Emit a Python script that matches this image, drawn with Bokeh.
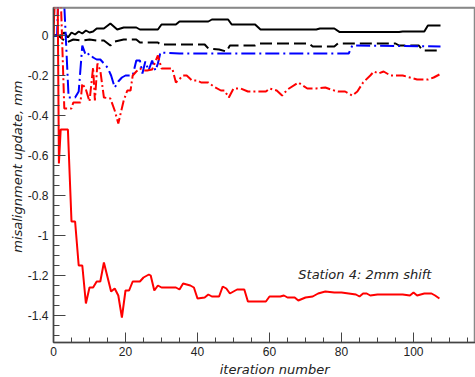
from bokeh.plotting import figure
from bokeh.models import (Range1d, FixedTicker, LinearAxis, Label, Title, Span,
                          CustomJSTickFormatter)
from bokeh.embed import file_html
from bokeh.resources import INLINE

# ---------------- data ----------------
blk_solid_x = [0, 1, 2, 3, 4, 5, 6, 7, 8, 9, 10, 11, 12, 14, 15.8, 17.7, 19.5, 23, 24, 29, 30,
               34, 35, 43, 44, 48.5, 49.5, 56, 57.5, 73, 74, 78, 79.5, 96, 97, 103, 104, 107.5]
blk_solid_y = [0, 0, 0.0, 0.015, -0.01, 0.015, 0.005, 0.02, 0.01, 0.025, 0.015, 0.02, 0.035, 0.035,
               0.06, 0.03, 0.04, 0.04, 0.03, 0.03, 0.055, 0.055, 0.07, 0.07, 0.08, 0.08, 0.055,
               0.055, 0.03, 0.03, 0.035, 0.035, 0.017, 0.017, 0.02, 0.02, 0.05, 0.05]

blk_dash_x = [0, 1, 2, 3.6, 5.5, 8, 10, 12, 14, 15.8, 17, 19.5, 23, 24, 29, 29.7, 42, 43, 46,
              48, 49, 56, 57, 71, 72, 78, 79, 95, 96, 101.5, 102.5, 107.5]
blk_dash_y = [0, 0, -0.01, -0.035, -0.02, -0.025, -0.02, -0.025, -0.025, -0.05, -0.03, -0.02,
              -0.02, -0.035, -0.035, -0.045, -0.045, -0.065, -0.07, -0.08, -0.05, -0.05, -0.04,
              -0.04, -0.055, -0.055, -0.04, -0.04, -0.05, -0.05, -0.075, -0.075]

blue_x = [0, 1, 2, 3, 4.2, 6, 7, 8, 9, 10, 11, 12, 13, 14, 15, 16, 17, 18, 19, 20, 22, 23, 24,
          24.7, 25.5, 26.4, 27.4, 28.3, 29, 29.7, 35, 82, 83, 107.5]
blue_y = [0, 0, 0.6, 0.15, -0.31, -0.31, -0.28, -0.05, -0.1, -0.09, -0.11, -0.12, -0.12, -0.14,
          -0.16, -0.2, -0.26, -0.23, -0.21, -0.2, -0.2, -0.125, -0.125, -0.19, -0.13, -0.175,
          -0.125, -0.175, -0.14, -0.085, -0.09, -0.09, -0.05, -0.055]

red_dash_x = [0, 1, 2, 3, 5, 5.5, 7.5, 8, 9, 10, 11, 11.5, 12.2, 13, 14, 15.8, 17, 18, 19.5,
              20.5, 21.4, 22, 23, 24, 25, 26, 27.4, 29, 30, 33, 34, 36, 37, 38.5, 40, 41, 43,
              44.5, 46.5, 47.5, 48.7, 50, 52, 54, 59, 60, 62, 63.5, 65, 68, 70.5, 73, 75.5, 77,
              79, 81, 83, 84.4, 86, 88, 89, 90.3, 91.7, 93.6, 97, 99, 101, 104, 105.6, 107.2]
red_dash_y = [0, 0.6, 0.2, -0.365, -0.365, -0.335, -0.335, -0.24, -0.27, -0.33, -0.16, -0.325,
              -0.14, -0.175, -0.31, -0.315, -0.375, -0.44, -0.325, -0.275, -0.275, -0.2, -0.18,
              -0.165, -0.175, -0.175, -0.17, -0.1, -0.165, -0.165, -0.235, -0.2, -0.2, -0.225,
              -0.225, -0.235, -0.235, -0.255, -0.275, -0.275, -0.31, -0.265, -0.265, -0.28,
              -0.28, -0.265, -0.275, -0.3, -0.27, -0.235, -0.265, -0.265, -0.26, -0.27, -0.28,
              -0.28, -0.3, -0.28, -0.235, -0.2, -0.18, -0.19, -0.18, -0.2, -0.2, -0.21, -0.22,
              -0.22, -0.21, -0.195]

red_solid_x = [0, 1, 1.5, 2, 4, 5, 6, 7, 8, 9, 10, 11, 12, 13, 14, 16, 17, 18, 19, 20, 21, 22,
               24, 25, 26.5, 27, 28, 29, 30, 34, 35, 36, 38, 39, 40, 42, 43, 44, 46, 47, 48, 49,
               50, 51, 53, 54, 59, 60, 63, 64, 65, 67, 68, 70, 72, 73.5, 75.5, 78, 80, 82, 84,
               85, 86, 87, 88, 90, 97, 99, 100, 101, 103, 105, 106, 107.2]
red_solid_y = [0, 0.6, -0.64, -0.47, -0.47, -0.93, -0.93, -1.15, -1.15, -1.34, -1.26, -1.26,
               -1.23, -1.23, -1.135, -1.28, -1.265, -1.3, -1.41, -1.275, -1.275, -1.23, -1.23,
               -1.21, -1.195, -1.2, -1.275, -1.25, -1.26, -1.26, -1.27, -1.24, -1.25, -1.26,
               -1.315, -1.31, -1.295, -1.305, -1.305, -1.255, -1.265, -1.29, -1.28, -1.27, -1.27,
               -1.33, -1.33, -1.305, -1.305, -1.3, -1.31, -1.31, -1.325, -1.31, -1.305, -1.29,
               -1.28, -1.285, -1.285, -1.29, -1.295, -1.305, -1.29, -1.29, -1.3, -1.295, -1.295,
               -1.3, -1.285, -1.3, -1.29, -1.29, -1.3, -1.315]

x_ticks = [0, 20, 40, 60, 80, 100, 120]
y_ticks = [-1.4, -1.2, -1.0, -0.8, -0.6, -0.4, -0.2, 0.0]
annotation = "Station 4: 2mm shift"
x_title = "iteration number"
y_title = "misalignment update, mm"

# ---------------- figure ----------------
p = figure(frame_width=422, frame_height=335, output_backend="svg", toolbar_location=None,
           x_range=Range1d(0, 117.22), y_range=Range1d(-1.535, 0.14),
           x_axis_type=None, y_axis_type=None,
           min_border_left=53, min_border_right=0, min_border_top=7, min_border_bottom=0)
p.background_fill_color = "white"
p.border_fill_color = "white"
p.outline_line_color = "#888888"
p.outline_line_width = 1.5
p.xgrid.visible = False
p.ygrid.visible = False

fmt = CustomJSTickFormatter(code="return String(Number(tick.toFixed(2)));")

xaxis = LinearAxis(ticker=FixedTicker(ticks=x_ticks, minor_ticks=list(range(0, 125, 5))),
                   formatter=fmt)
yaxis = LinearAxis(ticker=FixedTicker(ticks=y_ticks,
                                      minor_ticks=[round(-1.5 + 0.05 * i, 2) for i in range(33)]),
                   formatter=fmt)
for ax in (xaxis, yaxis):
    ax.axis_line_color = "#444444"
    ax.axis_line_width = 1.5
    ax.major_tick_line_color = "#444444"
    ax.minor_tick_line_color = "#444444"
    ax.major_tick_out = 0
    ax.minor_tick_out = 0
    ax.major_label_text_font = "Liberation Sans"
    ax.major_label_text_font_size = "12px"
    ax.major_label_text_color = "#222222"
xaxis.major_tick_in = 10
xaxis.minor_tick_in = 5
yaxis.major_tick_in = 12
yaxis.minor_tick_in = 6
xaxis.major_label_standoff = 4
yaxis.major_label_standoff = 5
p.add_layout(xaxis, "below")
p.add_layout(yaxis, "left")

p.add_layout(Span(location=0.1375, dimension="width", line_color="#888888", line_width=1.5))

p.add_layout(Title(text=x_title, align="right", offset=146, text_font="DejaVu Sans",
                   text_font_size="13px", text_font_style="italic", text_color="#222222",
                   standoff=2), "below")
p.add_layout(Title(text=y_title, align="right", offset=73, text_font="DejaVu Sans",
                   text_font_size="13px", text_font_style="italic", text_color="#222222",
                   standoff=0), "left")

p.line(blk_solid_x, blk_solid_y, line_color="black", line_width=2)
p.line(blk_dash_x, blk_dash_y, line_color="black", line_width=2, line_dash="12 5")
p.line(blue_x, blue_y, line_color="#0000ff", line_width=2, line_dash="14 4 2 4")
p.line(red_dash_x, red_dash_y, line_color="#ff0000", line_width=2, line_dash="10 3 2 3")
p.line(red_solid_x, red_solid_y, line_color="#ff0000", line_width=2)

p.add_layout(Label(x=68, y=-1.23, text=annotation, text_font="DejaVu Sans",
                   text_font_size="13px", text_font_style="italic", text_color="#222222"))

open("out.html", "w").write(file_html(p, INLINE))
